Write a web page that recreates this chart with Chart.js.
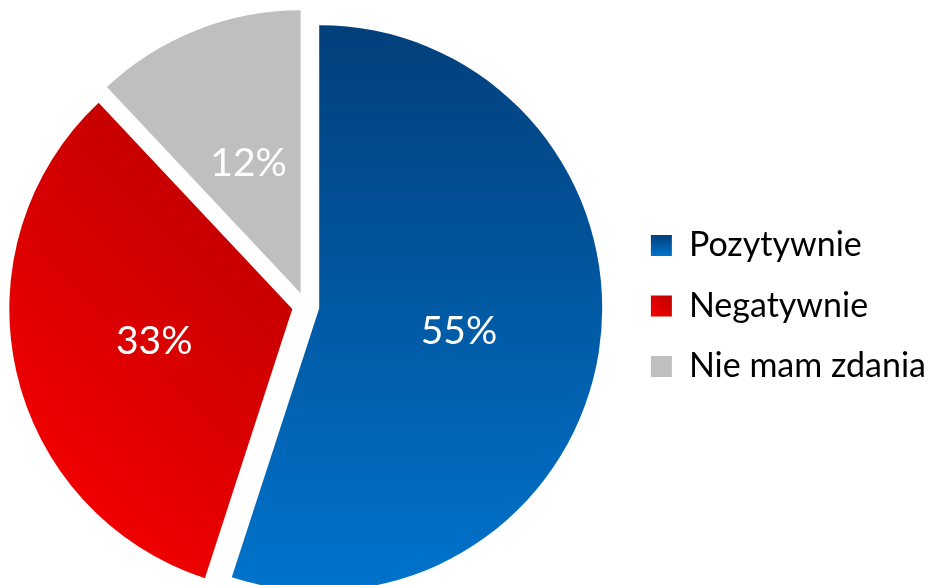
<!DOCTYPE html>
<html>
<head>
<meta charset="utf-8">
<script src="https://cdn.jsdelivr.net/npm/chart.js@4.4.0/dist/chart.umd.min.js"></script>
<style>
  html, body { margin: 0; padding: 0; background: #ffffff; overflow: hidden; width: 936px; height: 585px; }
  #wrap { position: absolute; left: -13px; top: 0; width: 949px; height: 585px; }
</style>
</head>
<body>
<div id="wrap"><canvas id="c"></canvas></div>
<script>
// ---- data ----
const categories = ['Pozytywnie', 'Negatywnie', 'Nie mam zdania'];
const values = [55, 33, 12];
const valueLabels = ['55%', '33%', '12%'];

// ---- styling ----
const FONT = 'Lato';
const LEGEND_SIZE = 34;
const LEGEND_PAD = 26.5;
const BOX = 21;
const RADIUS = 283;
const EXPLODE = 13.7;
const LABEL_SIZE = 39;
const SHIFT = 13;          // container shifted left by this many px
const CANVAS_W = 949;
const CENTER_X = 309;      // desired pie centre on the page

const mctx = document.createElement('canvas').getContext('2d');
mctx.font = LEGEND_SIZE + 'px ' + FONT;
const maxTextW = Math.max(...categories.map(t => mctx.measureText(t).width));
const legendLeft = 2 * (CENTER_X + SHIFT);               // chart-area right edge (canvas coords)
const legendW = LEGEND_PAD + BOX + LEGEND_SIZE / 2 + maxTextW + 10;
const padRight = Math.max(CANVAS_W - legendLeft - legendW, 0);

function blueGrad(ctx2d, y0, y1) {
  const g = ctx2d.createLinearGradient(0, y0, 0, y1);
  g.addColorStop(0, '#023f7a');
  g.addColorStop(1, '#0073cc');
  return g;
}
function redGrad(ctx2d, x0, y0, x1, y1) {
  const g = ctx2d.createLinearGradient(x0, y0, x1, y1);
  g.addColorStop(0, '#bd0000');
  g.addColorStop(1, '#f40000');
  return g;
}

function sliceColor(c) {
  const chart = c.chart;
  const area = chart.chartArea;
  const i = c.dataIndex;
  if (i === 2) return '#bfbfbf';
  if (!area) return i === 0 ? '#0058a8' : '#e00000';
  const cx = (area.left + area.right) / 2;
  const cy = (area.top + area.bottom) / 2;
  if (i === 0) return blueGrad(chart.ctx, cy - RADIUS, cy + RADIUS);
  return redGrad(chart.ctx, cx - 7.5, cy - 106, cx - 287.5, cy + 174);
}

// pull every slice out from the centre along its own mid-angle
const explodePlugin = {
  id: 'explodeSlices',
  afterDatasetUpdate(chart, args) {
    args.meta.data.forEach(arc => {
      const mid = (arc.startAngle + arc.endAngle) / 2;
      arc.x += Math.cos(mid) * EXPLODE;
      arc.y += Math.sin(mid) * EXPLODE;
    });
  }
};

const legendBoxPlugin = {
  id: 'legendBoxGradients',
  afterUpdate(chart) {
    const lg = chart.legend;
    if (!lg || !lg.legendItems || !lg.legendHitBoxes) return;
    const ctx = chart.ctx;
    lg.legendItems.forEach((item, i) => {
      const hb = lg.legendHitBoxes[i];
      if (!hb) return;
      const x = hb.left, y = hb.top + (LEGEND_SIZE - BOX) / 2;
      if (i === 0) item.fillStyle = blueGrad(ctx, y, y + BOX);
      else if (i === 1) item.fillStyle = redGrad(ctx, x + BOX, y, x, y + BOX);
      else item.fillStyle = '#bfbfbf';
      item.lineWidth = 0;
      item.strokeStyle = 'rgba(0,0,0,0)';
    });
  }
};

const valueLabelPlugin = {
  id: 'valueLabels',
  afterDatasetsDraw(chart) {
    const meta = chart.getDatasetMeta(0);
    const ctx = chart.ctx;
    ctx.save();
    ctx.font = LABEL_SIZE + 'px ' + FONT;
    ctx.fillStyle = '#ffffff';
    ctx.textAlign = 'center';
    ctx.textBaseline = 'alphabetic';
    meta.data.forEach((arc, i) => {
      const p = arc.tooltipPosition(true);
      ctx.fillText(valueLabels[i], p.x, p.y + LABEL_SIZE * 0.36);
    });
    ctx.restore();
  }
};

new Chart(document.getElementById('c'), {
  type: 'pie',
  data: {
    labels: categories,
    datasets: [{
      data: values,
      backgroundColor: sliceColor,
      borderWidth: 0,
      offset: 0,
      hoverOffset: 0,
      clip: false
    }]
  },
  options: {
    responsive: true,
    maintainAspectRatio: false,
    animation: false,
    devicePixelRatio: 1,
    radius: RADIUS,
    events: [],
    layout: { padding: { left: 0, right: padRight, top: 27, bottom: 0 } },
    plugins: {
      tooltip: { enabled: false },
      legend: {
        display: true,
        position: 'right',
        align: 'center',
        labels: {
          boxWidth: BOX,
          boxHeight: BOX,
          padding: LEGEND_PAD,
          color: '#000000',
          font: { family: FONT, size: LEGEND_SIZE }
        }
      }
    }
  },
  plugins: [explodePlugin, legendBoxPlugin, valueLabelPlugin]
});
</script>
</body>
</html>
